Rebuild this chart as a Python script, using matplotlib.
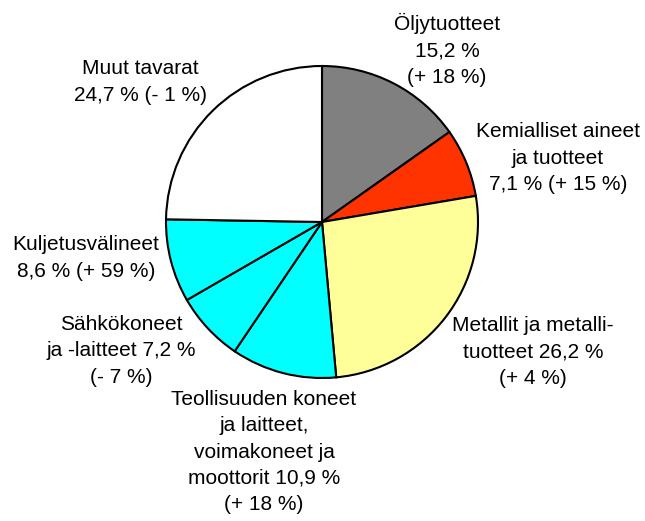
import matplotlib
matplotlib.use("Agg")
import matplotlib.pyplot as plt

# ---------- data ----------
categories = ["Öljytuotteet", "Kemialliset aineet ja tuotteet",
              "Metallit ja metallituotteet",
              "Teollisuuden koneet ja laitteet, voimakoneet ja moottorit",
              "Sähkökoneet ja -laitteet", "Kuljetusvälineet", "Muut tavarat"]
shares = [15.2, 7.1, 26.2, 10.9, 7.2, 8.6, 24.7]
label_texts = [
    "Öljytuotteet\n15,2 %\n(+ 18 %)",
    "Kemialliset aineet\nja tuotteet\n7,1 % (+ 15 %)",
    "Metallit ja metalli-\ntuotteet 26,2 %\n(+ 4 %)",
    "Teollisuuden koneet\nja laitteet,\nvoimakoneet ja\nmoottorit 10,9 %\n(+ 18 %)",
    "Sähkökoneet\nja -laitteet 7,2 %\n(- 7 %)",
    "Kuljetusvälineet\n8,6 % (+ 59 %)",
    "Muut tavarat\n24,7 % (- 1 %)",
]
colors = ["#808080", "#FF3300", "#FFFF99", "#00FFFF", "#00FFFF", "#00FFFF", "#FFFFFF"]

# label centres in pixels (from top-left)
label_pos = [(447, 50), (558, 158), (533, 352), (264, 452),
             (121, 351), (86, 258), (140, 82)]

W, H = 645, 521
fig = plt.figure(figsize=(W / 100, H / 100), dpi=100)
ax = fig.add_axes([0, 0, 1, 1])
ax.set_xlim(0, W)
ax.set_ylim(0, H)
ax.set_aspect("equal")
ax.axis("off")

ax.pie(shares, colors=colors, startangle=90, counterclock=False,
       center=(322, H - 222), radius=156,
       wedgeprops=dict(edgecolor="black", linewidth=1.5))
ax.set_xlim(0, W)
ax.set_ylim(0, H)

for txt, (px, py) in zip(label_texts, label_pos):
    ax.text(px, H - py, txt, ha="center", va="center", multialignment="center",
            fontsize=15, family="Liberation Sans", linespacing=1.47)

fig.savefig("out.png", dpi=100)
